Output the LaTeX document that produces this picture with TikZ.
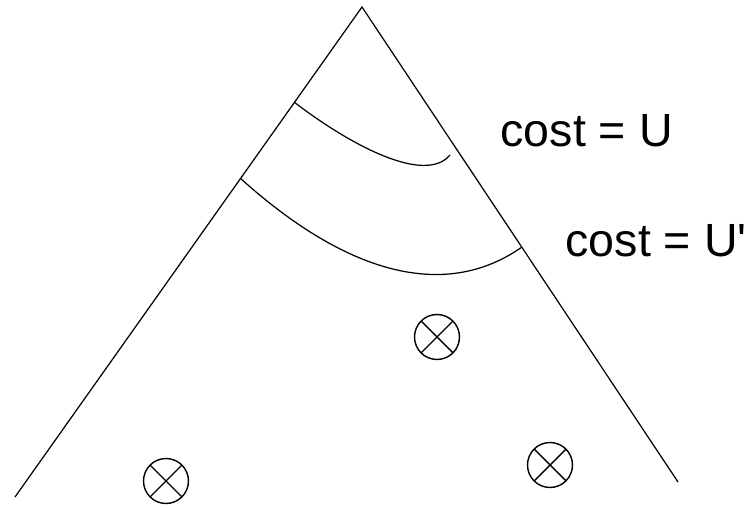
\documentclass[tikz,border=0pt]{standalone}
\usepackage{fontspec}
\setmainfont{Liberation Sans}[Ligatures=TeXOff]
\usepackage{tikz}
\tikzset{
  marker/.style={draw, circle, line width=0.8pt, minimum size=0.9cm, inner sep=0pt,
    path picture={\draw[line width=0.8pt] (path picture bounding box.north west) -- (path picture bounding box.south east)
      (path picture bounding box.north east) -- (path picture bounding box.south west);}},
  costlabel/.style={anchor=base west, inner sep=0pt, font=\fontsize{26.5}{30}\selectfont}
}

\begin{document}
\begin{tikzpicture}[x=0.02cm, y=0.02cm, line width=0.7pt]

            \useasboundingbox (0,0) rectangle (750,507);

            \coordinate (apex) at (362,500);
            \coordinate (left) at (15,10);
            \coordinate (right) at (678,25);
            \draw (left) -- (apex) -- (right);

            % level sets
            \coordinate (u1) at (294,405);
            \coordinate (u2) at (450,352);
            \coordinate (v1) at (240,329);
            \coordinate (v2) at (522,260);
            \draw (u1) .. controls (350,362) and (425,322) .. (u2);
            \draw (v1) .. controls (351,229) and (448,208) .. (v2);

            \node[costlabel] (costU) at (500,360) {cost = U};
            \node[costlabel] (costV) at (565,250) {cost = U'};

             \foreach \x/\y/\n in {437/170/a, 166/26/b, 550/42/c}
            \node[marker] (goal\n) at (\x,\y) {};
            \end{tikzpicture}
\end{document}
